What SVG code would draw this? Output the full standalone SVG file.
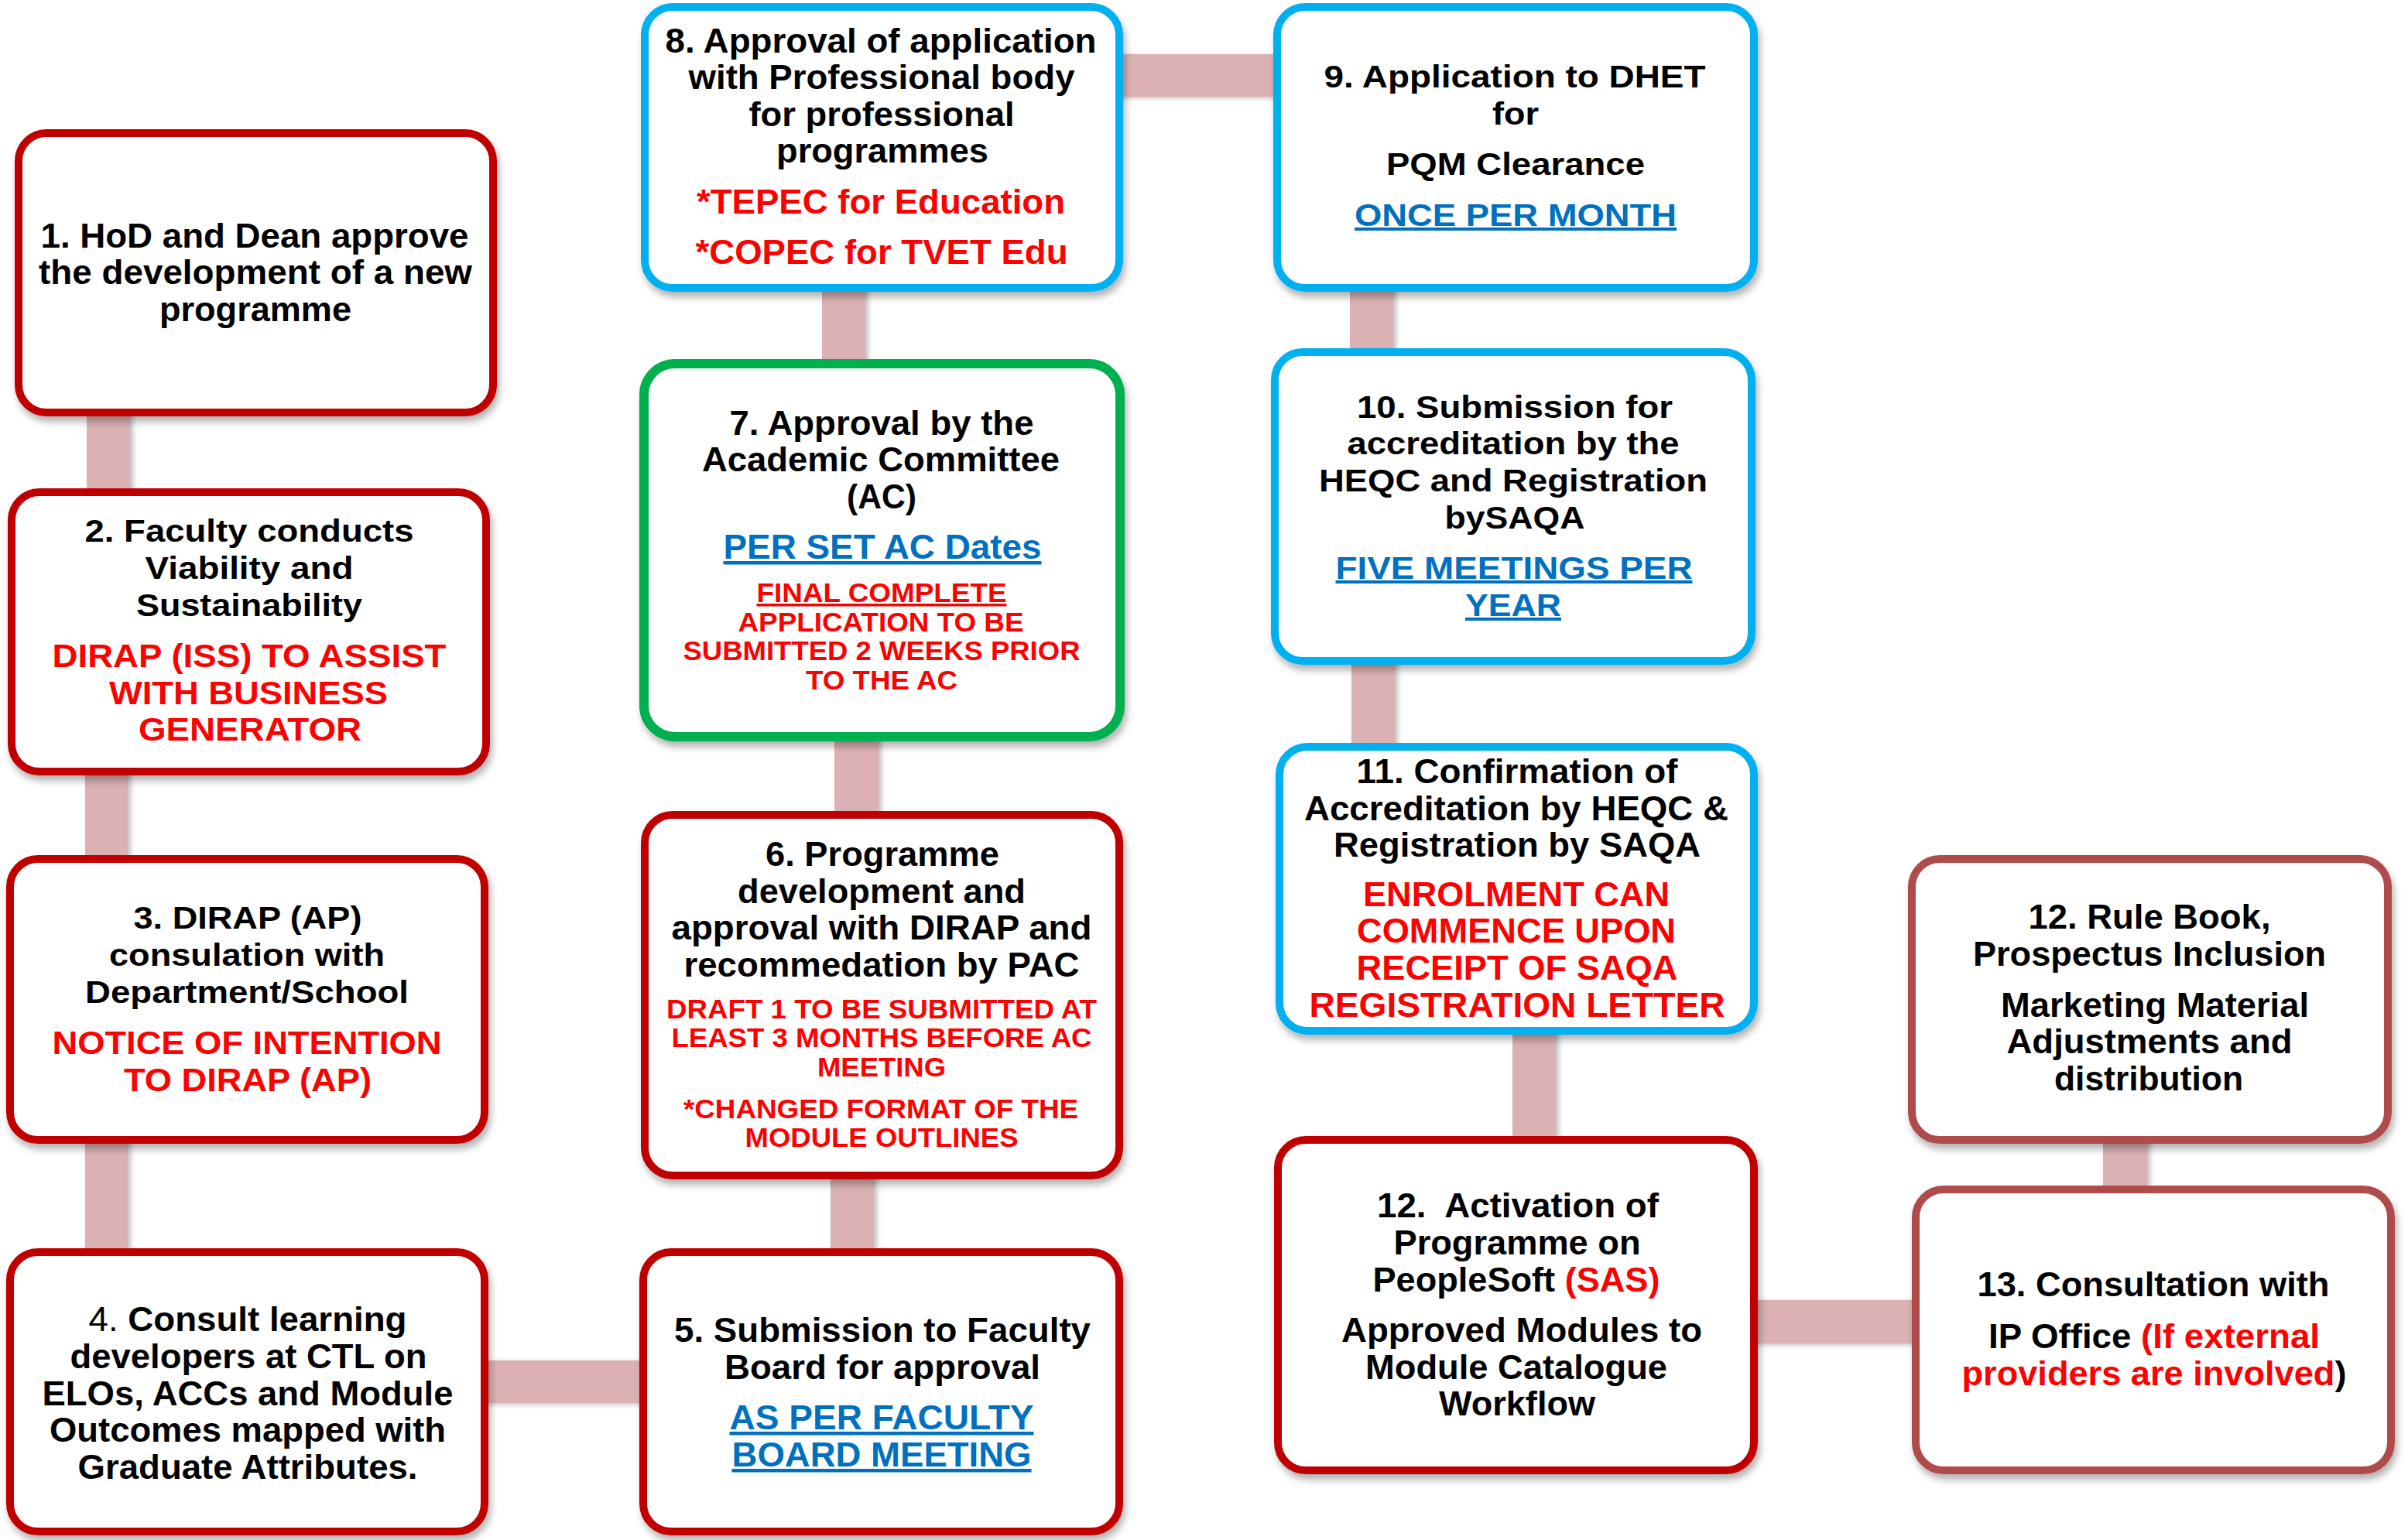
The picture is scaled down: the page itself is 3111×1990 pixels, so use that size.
<svg xmlns="http://www.w3.org/2000/svg" width="3111" height="1990" viewBox="0 0 3111 1990">
<defs>
<filter id="sh" x="-10%" y="-10%" width="125%" height="130%">
<feDropShadow dx="3" dy="7" stdDeviation="5" flood-color="#000" flood-opacity="0.3"/>
</filter>
<filter id="csh" x="-20%" y="-20%" width="150%" height="150%">
<feDropShadow dx="4" dy="2" stdDeviation="3" flood-color="#777" flood-opacity="0.45"/>
</filter>
</defs>
<style>
.box{fill:#fff;stroke-width:10;filter:url(#sh)}
.red{stroke:#C00000}
.blue{stroke:#00B0F0}
.green{stroke:#00B050;stroke-width:12}
.brown{stroke:#B04B4B}
.con{fill:#DBB1B3;filter:url(#csh)}
.t{font-family:"Liberation Sans",Arial,sans-serif;font-weight:bold;font-size:40px;text-anchor:middle;fill:#000}
.c{font-size:45px}
.r{fill:#FF0000}
.b{fill:#0070C0;text-decoration:underline}
.s{font-size:35px}
.n{font-weight:normal}
</style>
<rect width="3111" height="1990" fill="#fff"/>
<g id="connectors">
<rect class="con" x="112" y="520" width="56" height="130"/>
<rect class="con" x="110" y="985" width="55" height="140"/>
<rect class="con" x="110" y="1460" width="55" height="170"/>
<rect class="con" x="610" y="1758" width="240" height="55"/>
<rect class="con" x="1073" y="1505" width="56" height="125"/>
<rect class="con" x="1078" y="940" width="57" height="125"/>
<rect class="con" x="1062" y="360" width="56" height="120"/>
<rect class="con" x="1430" y="70" width="235" height="55"/>
<rect class="con" x="1744" y="360" width="56" height="110"/>
<rect class="con" x="1746" y="840" width="56" height="140"/>
<rect class="con" x="1954" y="1320" width="56" height="165"/>
<rect class="con" x="2250" y="1680" width="240" height="56"/>
<rect class="con" x="2717" y="1460" width="57" height="90"/>
</g>
<g id="n1">
<rect class="box red" x="24" y="172" width="613" height="361" rx="36"/>
<text class="t c" x="329" y="320" textLength="553" lengthAdjust="spacingAndGlyphs">1. HoD and Dean approve</text>
<text class="t c" x="330" y="367" textLength="560" lengthAdjust="spacingAndGlyphs">the development of a new</text>
<text class="t c" x="330" y="415" textLength="248" lengthAdjust="spacingAndGlyphs">programme</text>
</g>
<g id="n2">
<rect class="box red" x="15" y="636" width="613" height="361" rx="36"/>
<text class="t" x="322" y="700" textLength="425" lengthAdjust="spacingAndGlyphs">2. Faculty conducts</text>
<text class="t" x="322" y="748" textLength="269" lengthAdjust="spacingAndGlyphs">Viability and</text>
<text class="t" x="322" y="796" textLength="292" lengthAdjust="spacingAndGlyphs">Sustainability</text>
<text class="t r" x="322" y="862" textLength="509" lengthAdjust="spacingAndGlyphs" style="font-size:42px">DIRAP (ISS) TO ASSIST</text>
<text class="t r" x="321" y="910" textLength="360" lengthAdjust="spacingAndGlyphs" style="font-size:42px">WITH BUSINESS</text>
<text class="t r" x="323" y="957" textLength="288" lengthAdjust="spacingAndGlyphs" style="font-size:42px">GENERATOR</text>
</g>
<g id="n3">
<rect class="box red" x="13" y="1110" width="613" height="363" rx="36"/>
<text class="t" x="320" y="1200" textLength="295" lengthAdjust="spacingAndGlyphs">3. DIRAP (AP)</text>
<text class="t" x="319" y="1248" textLength="356" lengthAdjust="spacingAndGlyphs">consulation with</text>
<text class="t" x="319" y="1296" textLength="418" lengthAdjust="spacingAndGlyphs">Department/School</text>
<text class="t r" x="319" y="1362" textLength="503" lengthAdjust="spacingAndGlyphs" style="font-size:42px">NOTICE OF INTENTION</text>
<text class="t r" x="320" y="1410" textLength="320" lengthAdjust="spacingAndGlyphs" style="font-size:42px">TO DIRAP (AP)</text>
</g>
<g id="n4">
<rect class="box red" x="13" y="1618" width="613" height="361" rx="36"/>
<text class="t c" x="320" y="1720" textLength="411" lengthAdjust="spacingAndGlyphs"><tspan class="n">4.</tspan> Consult learning</text>
<text class="t c" x="321" y="1768" textLength="461" lengthAdjust="spacingAndGlyphs">developers at CTL on</text>
<text class="t c" x="320" y="1816" textLength="531" lengthAdjust="spacingAndGlyphs">ELOs, ACCs and Module</text>
<text class="t c" x="320" y="1863" textLength="512" lengthAdjust="spacingAndGlyphs">Outcomes mapped with</text>
<text class="t c" x="320" y="1911" textLength="439" lengthAdjust="spacingAndGlyphs">Graduate Attributes.</text>
</g>
<g id="n5">
<rect class="box red" x="831" y="1618" width="615" height="361" rx="36"/>
<text class="t c" x="1140" y="1734" textLength="538" lengthAdjust="spacingAndGlyphs">5. Submission to Faculty</text>
<text class="t c" x="1140" y="1782" textLength="408" lengthAdjust="spacingAndGlyphs">Board for approval</text>
<text class="t b c" x="1139" y="1847" textLength="393" lengthAdjust="spacingAndGlyphs">AS PER FACULTY</text>
<text class="t b c" x="1139" y="1895" textLength="387" lengthAdjust="spacingAndGlyphs">BOARD MEETING</text>
</g>
<g id="n6">
<rect class="box red" x="833" y="1053" width="613" height="466" rx="36"/>
<text class="t c" x="1140" y="1119" textLength="302" lengthAdjust="spacingAndGlyphs">6. Programme</text>
<text class="t c" x="1139" y="1167" textLength="372" lengthAdjust="spacingAndGlyphs">development and</text>
<text class="t c" x="1139" y="1214" textLength="543" lengthAdjust="spacingAndGlyphs">approval with DIRAP and</text>
<text class="t c" x="1139" y="1262" textLength="511" lengthAdjust="spacingAndGlyphs">recommedation by PAC</text>
<text class="t r s" x="1139" y="1316" textLength="556" lengthAdjust="spacingAndGlyphs">DRAFT 1 TO BE SUBMITTED AT</text>
<text class="t r s" x="1139" y="1353" textLength="543" lengthAdjust="spacingAndGlyphs">LEAST 3 MONTHS BEFORE AC</text>
<text class="t r s" x="1139" y="1391" textLength="166" lengthAdjust="spacingAndGlyphs">MEETING</text>
<text class="t r s" x="1138" y="1445" textLength="510" lengthAdjust="spacingAndGlyphs">*CHANGED FORMAT OF THE</text>
<text class="t r s" x="1139" y="1482" textLength="353" lengthAdjust="spacingAndGlyphs">MODULE OUTLINES</text>
</g>
<g id="n7">
<rect class="box green" x="832" y="470" width="615" height="482" rx="40"/>
<text class="t c" x="1139" y="562" textLength="393" lengthAdjust="spacingAndGlyphs">7. Approval by the</text>
<text class="t c" x="1138" y="609" textLength="462" lengthAdjust="spacingAndGlyphs">Academic Committee</text>
<text class="t c" x="1139" y="657" textLength="90" lengthAdjust="spacingAndGlyphs">(AC)</text>
<text class="t b c" x="1140" y="722" textLength="411" lengthAdjust="spacingAndGlyphs">PER SET AC Dates</text>
<text class="t r s" x="1139" y="778" textLength="323" lengthAdjust="spacingAndGlyphs" text-decoration="underline">FINAL COMPLETE</text>
<text class="t r s" x="1138" y="816" textLength="369" lengthAdjust="spacingAndGlyphs">APPLICATION TO BE</text>
<text class="t r s" x="1139" y="853" textLength="513" lengthAdjust="spacingAndGlyphs">SUBMITTED 2 WEEKS PRIOR</text>
<text class="t r s" x="1139" y="891" textLength="196" lengthAdjust="spacingAndGlyphs">TO THE AC</text>
</g>
<g id="n8">
<rect class="box blue" x="833" y="9" width="613" height="363" rx="36"/>
<text class="t c" x="1138" y="68" textLength="557" lengthAdjust="spacingAndGlyphs">8. Approval of application</text>
<text class="t c" x="1139" y="115" textLength="499" lengthAdjust="spacingAndGlyphs">with Professional body</text>
<text class="t c" x="1139" y="163" textLength="343" lengthAdjust="spacingAndGlyphs">for professional</text>
<text class="t c" x="1140" y="210" textLength="274" lengthAdjust="spacingAndGlyphs">programmes</text>
<text class="t r c" x="1138" y="276" textLength="476" lengthAdjust="spacingAndGlyphs">*TEPEC for Education</text>
<text class="t r c" x="1139" y="341" textLength="481" lengthAdjust="spacingAndGlyphs">*COPEC for TVET Edu</text>
</g>
<g id="n9">
<rect class="box blue" x="1650" y="9" width="616" height="363" rx="36"/>
<text class="t" x="1957" y="113" textLength="493" lengthAdjust="spacingAndGlyphs">9. Application to DHET</text>
<text class="t" x="1958" y="161" textLength="60" lengthAdjust="spacingAndGlyphs">for</text>
<text class="t" x="1958" y="226" textLength="334" lengthAdjust="spacingAndGlyphs">PQM Clearance</text>
<text class="t b" x="1958" y="292" textLength="416" lengthAdjust="spacingAndGlyphs">ONCE PER MONTH</text>
</g>
<g id="n10">
<rect class="box blue" x="1647" y="455" width="616" height="399" rx="36"/>
<text class="t" x="1957" y="540" textLength="408" lengthAdjust="spacingAndGlyphs">10. Submission for</text>
<text class="t" x="1955" y="587" textLength="429" lengthAdjust="spacingAndGlyphs">accreditation by the</text>
<text class="t" x="1955" y="635" textLength="502" lengthAdjust="spacingAndGlyphs">HEQC and Registration</text>
<text class="t" x="1957" y="683" textLength="181" lengthAdjust="spacingAndGlyphs">bySAQA</text>
<text class="t b" x="1956" y="748" textLength="461" lengthAdjust="spacingAndGlyphs">FIVE MEETINGS PER</text>
<text class="t b" x="1955" y="796" textLength="124" lengthAdjust="spacingAndGlyphs">YEAR</text>
</g>
<g id="n11">
<rect class="box blue" x="1653" y="965" width="613" height="367" rx="36"/>
<text class="t c" x="1960" y="1012" textLength="415" lengthAdjust="spacingAndGlyphs">11. Confirmation of</text>
<text class="t c" x="1959" y="1060" textLength="548" lengthAdjust="spacingAndGlyphs">Accreditation by HEQC &amp;</text>
<text class="t c" x="1960" y="1107" textLength="474" lengthAdjust="spacingAndGlyphs">Registration by SAQA</text>
<text class="t r c" x="1959" y="1171" textLength="396" lengthAdjust="spacingAndGlyphs">ENROLMENT CAN</text>
<text class="t r c" x="1959" y="1218" textLength="412" lengthAdjust="spacingAndGlyphs">COMMENCE UPON</text>
<text class="t r c" x="1960" y="1266" textLength="415" lengthAdjust="spacingAndGlyphs">RECEIPT OF SAQA</text>
<text class="t r c" x="1960" y="1314" textLength="537" lengthAdjust="spacingAndGlyphs">REGISTRATION LETTER</text>
</g>
<g id="n12a">
<rect class="box red" x="1651" y="1473" width="615" height="427" rx="36"/>
<text class="t c" x="1961" y="1573" textLength="364" lengthAdjust="spacingAndGlyphs" xml:space="preserve">12.  Activation of</text>
<text class="t c" x="1960" y="1621" textLength="319" lengthAdjust="spacingAndGlyphs">Programme on</text>
<text class="t c" x="1959" y="1669" textLength="371" lengthAdjust="spacingAndGlyphs">PeopleSoft <tspan class="r">(SAS)</tspan></text>
<text class="t c" x="1966" y="1734" textLength="466" lengthAdjust="spacingAndGlyphs">Approved Modules to</text>
<text class="t c" x="1959" y="1782" textLength="390" lengthAdjust="spacingAndGlyphs">Module Catalogue</text>
<text class="t c" x="1960" y="1829" textLength="202" lengthAdjust="spacingAndGlyphs">Workflow</text>
</g>
<g id="n12b">
<rect class="box brown" x="2470" y="1110" width="615" height="363" rx="36"/>
<text class="t c" x="2777" y="1200" textLength="313" lengthAdjust="spacingAndGlyphs">12. Rule Book,</text>
<text class="t c" x="2777" y="1248" textLength="456" lengthAdjust="spacingAndGlyphs">Prospectus Inclusion</text>
<text class="t c" x="2784" y="1314" textLength="398" lengthAdjust="spacingAndGlyphs">Marketing Material</text>
<text class="t c" x="2777" y="1361" textLength="369" lengthAdjust="spacingAndGlyphs">Adjustments and</text>
<text class="t c" x="2776" y="1409" textLength="244" lengthAdjust="spacingAndGlyphs">distribution</text>
</g>
<g id="n13">
<rect class="box brown" x="2475" y="1537" width="614" height="363" rx="36"/>
<text class="t c" x="2782" y="1675" textLength="455" lengthAdjust="spacingAndGlyphs">13. Consultation with</text>
<text class="t c" x="2783" y="1742" textLength="428" lengthAdjust="spacingAndGlyphs">IP Office <tspan class="r">(If external</tspan></text>
<text class="t c" x="2783" y="1790" textLength="497" lengthAdjust="spacingAndGlyphs"><tspan class="r">providers are involved</tspan>)</text>
</g>
</svg>
